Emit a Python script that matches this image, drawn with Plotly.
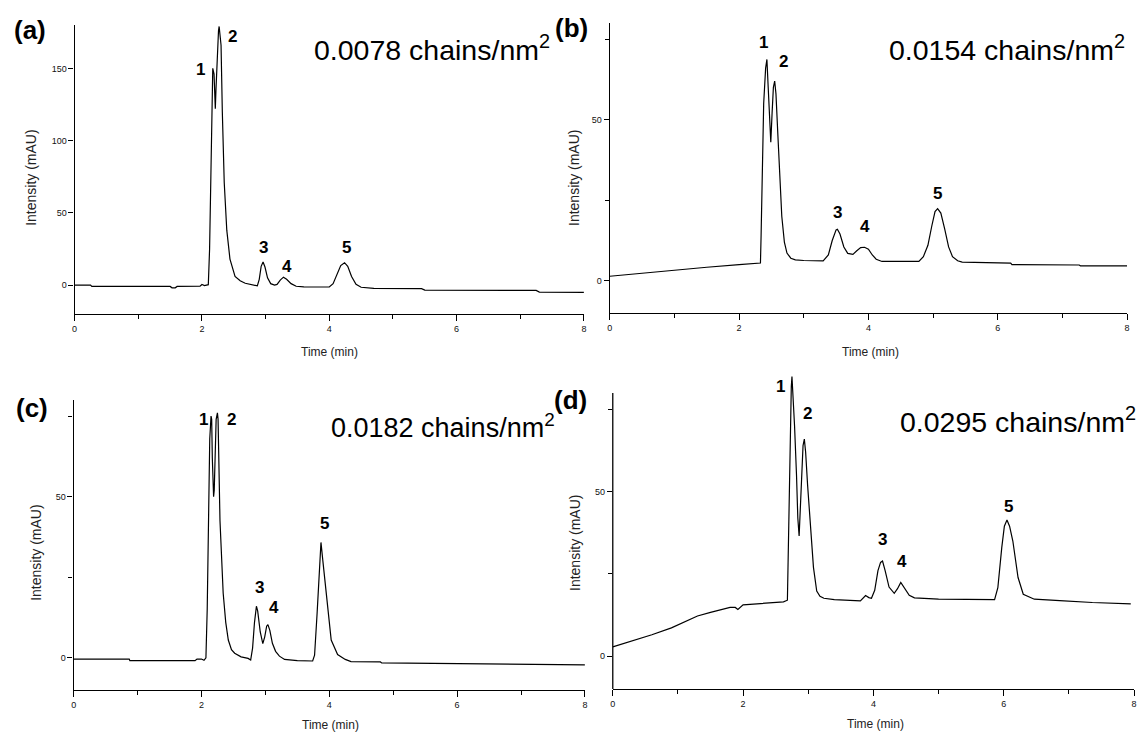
import plotly.graph_objects as go

W, H = 1142, 733

# ---------------- data ----------------
time_a = [0, 0.25, 0.27, 1.50, 1.53, 1.58, 1.61, 1.97, 2.00, 2.04, 2.10, 2.12, 2.14, 2.16, 2.17,
          2.19, 2.20, 2.21, 2.22, 2.24, 2.26, 2.27, 2.28, 2.30, 2.32, 2.35, 2.39, 2.44, 2.52, 2.60,
          2.68, 2.80, 2.87, 2.90, 2.93, 2.96, 2.99, 3.03, 3.08, 3.14, 3.18, 3.23, 3.28, 3.33, 3.40,
          3.48, 3.60, 3.80, 4.00, 4.06, 4.12, 4.18, 4.24, 4.29, 4.35, 4.42, 4.50, 4.70, 5.45, 5.50,
          7.25, 7.30, 8.0]
intensity_a = [0, 0, -0.9, -0.9, -1.9, -1.9, -0.9, -0.8, 0.4, -0.3, 0.3, 25, 75, 125, 150,
               146, 130, 122, 135, 160, 176, 179, 175, 166, 120, 71, 38, 18, 6, 3,
               1.3, 0, -0.5, 4, 13, 16, 12.5, 5, 1, 0, 0.5, 3.5, 5.5, 4, 1,
               -0.8, -1.2, -1.3, -1.3, 1, 7, 13.5, 15.5, 13, 6, 0.5, -1.5, -2.3, -2.5, -3.5,
               -3.7, -4.8, -5]

time_b = [0, 0.5, 1.0, 1.5, 2.0, 2.33, 2.34, 2.36, 2.38, 2.41, 2.43, 2.45, 2.47, 2.49, 2.51,
          2.53, 2.55, 2.57, 2.60, 2.63, 2.66, 2.70, 2.74, 2.80, 2.87, 3.00, 3.30, 3.38, 3.44, 3.50,
          3.52, 3.56, 3.62, 3.68, 3.76, 3.82, 3.88, 3.94, 4.00, 4.06, 4.12, 4.21, 4.50, 4.78, 4.85,
          4.92, 4.98, 5.03, 5.07, 5.12, 5.18, 5.24, 5.30, 5.38, 5.45, 6.20, 6.22, 7.26, 7.28, 8.0]
intensity_b = [1.4, 2.4, 3.3, 4.2, 5.0, 5.5, 14, 35, 55, 66, 68.7, 60, 48, 43, 52,
               60, 62, 58, 45, 32, 20, 12, 8.6, 7, 6.5, 6.3, 6.2, 8, 12.5, 15.8,
               16, 14.5, 10.5, 8.5, 8.2, 9.3, 10.3, 10.4, 9.8, 8, 6.7, 6.0, 6.0, 6.0, 7.5,
               11, 17, 21.5, 22.4, 21, 16, 10.5, 7.5, 6.2, 5.8, 5.5, 5.0, 4.9, 4.6, 4.6]

time_c = [0, 0.87, 0.88, 1.90, 1.93, 2.00, 2.04, 2.07, 2.09, 2.11, 2.13, 2.15, 2.16, 2.17, 2.19,
          2.20, 2.21, 2.23, 2.25, 2.26, 2.29, 2.34, 2.38, 2.42, 2.47, 2.52, 2.62, 2.73, 2.77, 2.80,
          2.83, 2.86, 2.88, 2.92, 2.96, 2.99, 3.02, 3.04, 3.07, 3.11, 3.16, 3.22, 3.30, 3.50, 3.74,
          3.77, 3.81, 3.85, 3.87, 3.90, 3.95, 4.03, 4.13, 4.25, 4.34, 4.80, 4.82, 6.5, 8.0]
intensity_c = [-0.4, -0.4, -0.9, -0.9, -0.4, -0.4, -0.8, 0, 15, 45, 68, 75, 74, 62, 50,
               52, 64, 74, 76, 74, 42.5, 20, 11, 5.5, 2.5, 1.4, 0.3, -0.2, -0.7, 3,
               11, 16, 14.5, 8, 4.4, 6.5, 9.8, 10.3, 8.5, 4.5, 2, 0.5, -0.5, -0.9, -1.0,
               0.8, 14, 30, 35.8, 30, 19.9, 5.5, 1, -0.5, -1.2, -1.3, -1.6, -1.8, -2.2]

time_d = [0, 0.3, 0.6, 0.9, 1.2, 1.3, 1.5, 1.8, 1.88, 1.92, 2.0, 2.3, 2.62, 2.68, 2.70,
          2.72, 2.74, 2.75, 2.77, 2.79, 2.82, 2.84, 2.86, 2.88, 2.90, 2.92, 2.94, 2.96, 2.99, 3.02,
          3.08, 3.13, 3.18, 3.24, 3.40, 3.80, 3.85, 3.88, 3.93, 3.97, 4.02, 4.07, 4.11, 4.14, 4.18,
          4.24, 4.32, 4.37, 4.42, 4.47, 4.55, 4.63, 5.00, 5.86, 5.91, 5.97, 6.01, 6.05, 6.09, 6.14,
          6.22, 6.30, 6.47, 6.86, 7.36, 7.95]
intensity_d = [2.8, 4.6, 6.5, 8.6, 11.2, 12.2, 13.3, 14.8, 14.8, 14.2, 15.6, 16.1, 16.5, 17, 40,
               65, 82, 85, 78, 70, 55, 42, 36.5, 45, 58, 64, 66, 62, 52, 44,
               27, 19.8, 18.2, 17.6, 17.2, 16.8, 17.8, 18.4, 17.8, 17.6, 20, 26, 28.5, 28.9, 26,
               21, 19.1, 20.5, 22.4, 21, 18.5, 17.7, 17.3, 17.2, 20.8, 33, 39.5, 41.4, 39.5, 35,
               23.9, 18.8, 17.3, 16.9, 16.3, 15.9]

peak_names = ["1", "2", "3", "4", "5"]
label_time_a = [1.97, 2.48, 2.97, 3.33, 4.27]
label_val_a = [149, 172, 26, 13, 26]
label_time_b = [2.37, 2.68, 3.52, 3.94, 5.07]
label_val_b = [74, 68, 21.3, 16.7, 27.2]
label_time_c = [2.03, 2.47, 2.91, 3.14, 3.92]
label_val_c = [74, 74, 21.8, 15.6, 41.6]
label_time_d = [2.58, 2.99, 4.14, 4.44, 6.07]
label_val_d = [82, 73.9, 35.6, 28.9, 45.6]

panel_letters = ["(a)", "(b)", "(c)", "(d)"]
densities = ["0.0078", "0.0154", "0.0182", "0.0295"]
x_title = "Time (min)"
y_title = "Intensity (mAU)"

# ---------------- layout geometry (pixels) ----------------
def px(x):
    return x / W

def py(y):
    return 1 - y / H

panels = [
    dict(t=time_a, v=intensity_a, lt=label_time_a, lv=label_val_a,
         xpx=(72, 584), ypx=(314, 25), yr=[-20, 180], dt=50, minor=None,
         letter=(9, 30), dens=(552, 48), dsize=28.5, ytitle=(28, 178), xtitle=(328, 352)),
    dict(t=time_b, v=intensity_b, lt=label_time_b, lv=label_val_b,
         xpx=(610, 1130), ypx=(313, 23), yr=[-10, 80], dt=50, minor=25,
         letter=(553, 28), dens=(1130, 48), dsize=28.5, ytitle=(574, 178), xtitle=(872, 352)),
    dict(t=time_c, v=intensity_c, lt=label_time_c, lv=label_val_c,
         xpx=(71, 585), ypx=(690, 400), yr=[-10, 80], dt=50, minor=25,
         letter=(11, 408), dens=(557, 426), dsize=27, ytitle=(33, 553), xtitle=(329, 725)),
    dict(t=time_d, v=intensity_d, lt=label_time_d, lv=label_val_d,
         xpx=(613, 1137), ypx=(689, 373.3), yr=[-10, 86], dt=50, minor=25,
         letter=(552, 400), dens=(1141, 420), dsize=28.5, ytitle=(575, 543), xtitle=(877, 724)),
]

fig = go.Figure()
annotations = []
shapes = []
tickfont = dict(family="Liberation Sans, Arial, sans-serif", size=9, color="#111")

for i, p in enumerate(panels):
    n = "" if i == 0 else str(i + 1)
    xa, ya = "x" + n, "y" + n
    fig.add_trace(go.Scatter(x=p["t"], y=p["v"], mode="lines",
                             line=dict(color="black", width=1.2),
                             xaxis=xa, yaxis=ya, showlegend=False, hoverinfo="skip"))
    xdom = [px(p["xpx"][0]), px(p["xpx"][1])]
    ydom = [py(p["ypx"][0]), py(p["ypx"][1])]
    xaxis = dict(domain=xdom, range=[0, 8], dtick=2, tick0=0, showline=True,
                 linecolor="black", linewidth=1.3, ticks="outside", ticklen=6,
                 tickwidth=1.2, tickcolor="black", showgrid=False, zeroline=False,
                 tickfont=tickfont, anchor=ya,
                 minor=dict(dtick=1, ticks="outside", ticklen=4, tickcolor="black",
                            tickwidth=1.2, showgrid=False))
    yaxis = dict(domain=ydom, range=p["yr"], dtick=p["dt"], tick0=0,
                 showline=(i != 3), linecolor="black", linewidth=1.3,
                 ticks="outside", ticklen=5, tickwidth=1.2, tickcolor="black",
                 showgrid=False, zeroline=False, tickfont=tickfont, anchor=xa)
    if p["minor"]:
        yaxis["minor"] = dict(dtick=p["minor"], ticks="outside", ticklen=4,
                              tickcolor="black", tickwidth=1.2, showgrid=False)
    fig.update_layout(**{"xaxis" + n: xaxis, "yaxis" + n: yaxis})

    # peak numbers
    for name, t, v in zip(peak_names, p["lt"], p["lv"]):
        annotations.append(dict(x=t, y=v, xref=xa, yref=ya, text=name, showarrow=False,
                                xanchor="center", yanchor="middle",
                                font=dict(family="Liberation Sans, Arial", size=17,
                                          color="black", weight="bold")))
    # panel letter
    annotations.append(dict(x=px(p["letter"][0]), y=py(p["letter"][1]), xref="paper",
                            yref="paper", text=panel_letters[i], showarrow=False,
                            xanchor="left", yanchor="middle",
                            font=dict(family="Liberation Sans, Arial", size=26,
                                      color="black", weight="bold")))
    # grafting density
    annotations.append(dict(x=px(p["dens"][0]), y=py(p["dens"][1]), xref="paper",
                            yref="paper", text=densities[i] + " chains/nm<sup>2</sup>",
                            showarrow=False, xanchor="right", yanchor="middle",
                            font=dict(family="Liberation Sans, Arial", size=p["dsize"],
                                      color="black")))
    # axis titles
    annotations.append(dict(x=px(p["ytitle"][0]), y=py(p["ytitle"][1]), xref="paper",
                            yref="paper", text=y_title, showarrow=False, textangle=-90,
                            xanchor="center", yanchor="middle",
                            font=dict(family="Liberation Sans, Arial", size=14,
                                      color="#222")))
    annotations.append(dict(x=px(p["xtitle"][0]), y=py(p["xtitle"][1]), xref="paper",
                            yref="paper", text=x_title, showarrow=False,
                            xanchor="center", yanchor="middle",
                            font=dict(family="Liberation Sans, Arial", size=12,
                                      color="#222")))

# y axis line of panel (d) stops at the top of the scale while the peak overshoots it
pd_ = panels[3]
y_top_val = 80
y_top_px = pd_["ypx"][0] - (pd_["ypx"][0] - pd_["ypx"][1]) * (y_top_val - pd_["yr"][0]) / (pd_["yr"][1] - pd_["yr"][0])
shapes.append(dict(type="line", xref="paper", yref="paper",
                   x0=px(pd_["xpx"][0]), x1=px(pd_["xpx"][0]),
                   y0=py(pd_["ypx"][0]), y1=py(y_top_px),
                   line=dict(color="black", width=1.3)))

fig.update_layout(width=W, height=H, margin=dict(l=0, r=0, t=0, b=0),
                  paper_bgcolor="white", plot_bgcolor="white",
                  annotations=annotations, shapes=shapes, showlegend=False)

fig.write_html("out.html", config={"displayModeBar": False},
               post_script="document.body.style.margin='0';document.body.style.overflow='hidden';")
